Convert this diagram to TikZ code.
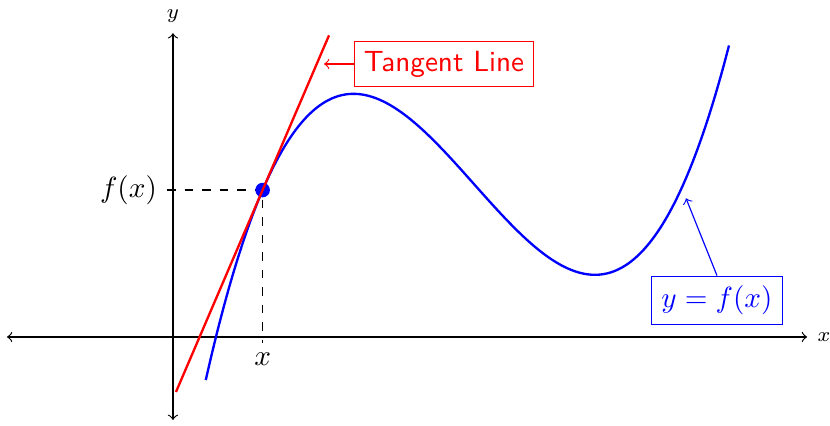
\documentclass[tikz,border=0pt]{standalone}
\usepackage{tikz}
\usetikzlibrary{positioning}
\usepackage{amsmath}

\begin{document}
\begin{tikzpicture}[
    x=1cm,
    y=1cm,
    declare function={f(\t)=1.77+2.33*(\t-1.08)-1.355*(\t-1.08)*(\t-1.08)+0.17717*(\t-1.08)*(\t-1.08)*(\t-1.08);},
    axisline/.style={<->},
    curve/.style={blue, thick},
    tangent/.style={red, thick},
    guide/.style={dashed},
    tag/.style={rectangle, draw, inner sep=3.33pt},
    pointer/.style={->}
]
\useasboundingbox (-2.084,-1.072) rectangle (7.916,4.06);
\coordinate (xstart) at (-2, 0);
\coordinate (xend) at (7.64, 0);
\coordinate (ystart) at (0, -1);
\coordinate (yend) at (0, 3.66);
\draw[axisline] (xstart) -- (xend);
\draw[axisline] (ystart) -- (yend);
\node[right, font=\scriptsize] (xname) at (xend) {$x$};
\node[above, font=\scriptsize] (yname) at (yend) {$y$};

\draw[curve] plot[domain=0.395:6.70, samples=100, smooth] (\x, {f(\x)});

\coordinate (touch) at (1.08, 1.77);
\coordinate (fxtick) at (-0.07, 1.77);
\coordinate (xtick) at (1.08, -0.07);
\draw[guide] (fxtick) -- (touch) -- (xtick);
\node[circle, fill=blue, inner sep=0pt, minimum size=5pt] (point) at (touch) {};
\node[left] (fxlabel) at (fxtick) {$f(x)$};
\node[below] (xlabel) at (xtick) {$x$};

\draw[tangent] (0.036, -0.663) -- (1.88, 3.634);

\node[tag, red, font=\sffamily] (tangentlabel) at (3.265, 3.289) {Tangent Line};
\coordinate (tangenttip) at (1.82, 3.289);
\draw[pointer, red] (tangentlabel.west) -- (tangenttip);

\node[tag, blue] (curvelabel) at (6.554, 0.44) {$y = f(x)$};
\coordinate (curvetip) at (6.181, 1.671);
\draw[pointer, blue] (curvelabel.north) -- (curvetip);
\end{tikzpicture}
\end{document}
